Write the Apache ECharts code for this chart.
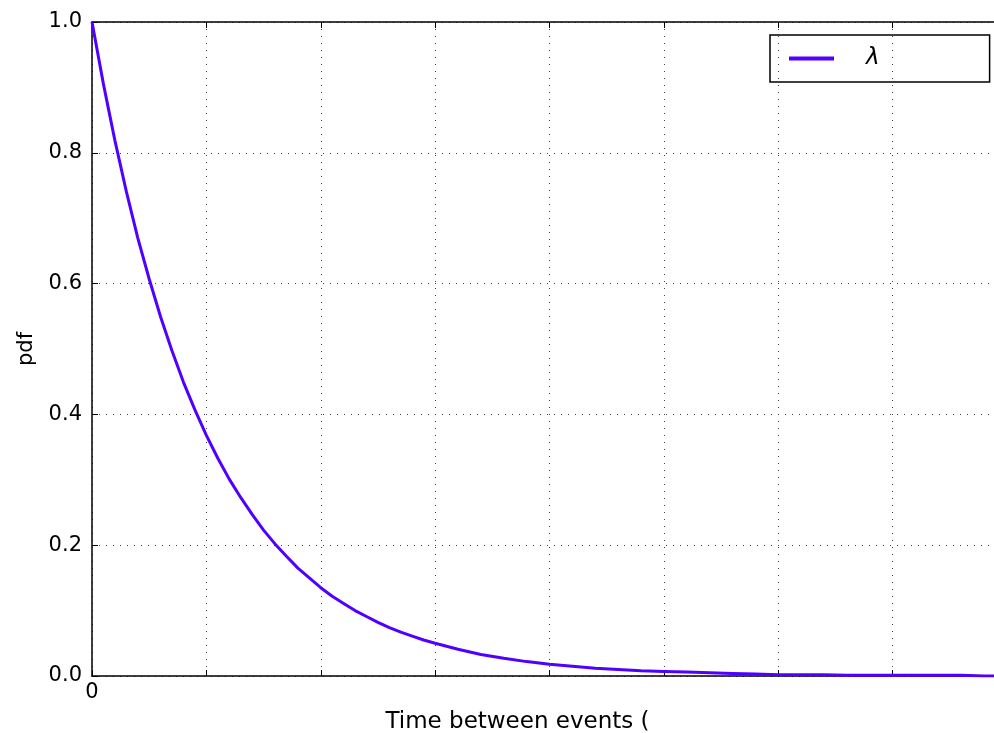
<!DOCTYPE html>
<html>
<head>
<meta charset="utf-8">
<script src="https://cdn.jsdelivr.net/npm/echarts@6/dist/echarts.min.js"></script>
<style>
  html, body { margin: 0; padding: 0; background: #fff; }
  #chart { width: 994px; height: 733px; }
</style>
</head>
<body>
<div id="chart"></div>
<script>
// exponential pdf
var xs = [0, 0.1, 0.2, 0.3, 0.4, 0.5, 0.6, 0.7, 0.8, 0.9, 1.0, 1.1, 1.2, 1.3, 1.4, 1.5,
    1.6, 1.7, 1.8, 1.9, 2.0, 2.1, 2.2, 2.3, 2.4, 2.5, 2.6, 2.7, 2.8, 2.9, 3.0,
    3.2, 3.4, 3.6, 3.8, 4.0, 4.2, 4.4, 4.6, 4.8, 5.0, 5.2, 5.4, 5.6, 5.8, 6.0,
    6.2, 6.4, 6.6, 6.8, 7.0, 7.2, 7.4, 7.6, 7.8, 8.0];
var pdf = [1.000, 0.905, 0.819, 0.741, 0.670, 0.607, 0.549, 0.497, 0.449, 0.407, 0.368,
    0.333, 0.301, 0.273, 0.247, 0.223, 0.202, 0.183, 0.165, 0.150, 0.135,
    0.122, 0.111, 0.100, 0.091, 0.082, 0.074, 0.067, 0.061, 0.055, 0.050,
    0.041, 0.033, 0.027, 0.022, 0.018, 0.015, 0.012, 0.010, 0.008, 0.007,
    0.006, 0.005, 0.004, 0.003, 0.002, 0.002, 0.002, 0.001, 0.001, 0.001,
    0.001, 0.001, 0.001, 0.000, 0.000];
var seriesName = "λ";
var xTitle = "Time between events (";
var yTitle = "pdf";

var font = "DejaVu Sans";
var points = [];
for (var i = 0; i < xs.length; i++) {
    points.push([xs[i], pdf[i]]);
}

var gridDots = { show: true, lineStyle: { color: "#444", width: 1, type: [1, 6] } };
var tickStyle = { show: true, inside: true, length: 6, lineStyle: { color: "#000" } };
var frameLine = { show: true, lineStyle: { color: "#000", width: 1.5 } };

var myChart = echarts.init(document.getElementById("chart"));
var option = {
    animation: false,
    backgroundColor: "#fff",
    grid: { left: 92, top: 22, bottom: 57, right: -13, outerBoundsMode: "none", containLabel: false },
    legend: {
        left: 770,
        top: 35,
        data: [seriesName],
        icon: "rect",
        itemWidth: 45,
        itemHeight: 4,
        borderColor: "#000",
        borderWidth: 1.5,
        borderRadius: 0,
        padding: [12, 110, 12, 19],
        textStyle: {
            fontFamily: font,
            fontStyle: "italic",
            fontSize: 23,
            color: "#000",
            padding: [0, 0, 0, 27]
        }
    },
    xAxis: [{
        type: "value",
        min: 0,
        max: 8,
        interval: 1,
        name: xTitle,
        nameLocation: "middle",
        nameGap: 35,
        nameTextStyle: { fontFamily: font, fontSize: 23, color: "#000", padding: [0, 64, 0, 0] },
        axisLine: frameLine,
        axisTick: tickStyle,
        axisLabel: {
            fontFamily: font, fontSize: 21, color: "#000", margin: 6,
            formatter: function (v) { return v === 0 ? "0" : ""; }
        },
        splitLine: gridDots
    }, {
        type: "value",
        position: "top",
        min: 0,
        max: 8,
        interval: 1,
        axisLine: frameLine,
        axisTick: tickStyle,
        axisLabel: { show: false },
        splitLine: { show: false }
    }],
    yAxis: [{
        type: "value",
        min: 0,
        max: 1,
        interval: 0.2,
        name: yTitle,
        nameLocation: "middle",
        nameGap: 55,
        nameTextStyle: { fontFamily: font, fontSize: 21, color: "#000" },
        axisLine: frameLine,
        axisTick: tickStyle,
        axisLabel: {
            fontFamily: font, fontSize: 21, color: "#000", margin: 10,
            formatter: function (v) { return v.toFixed(1); }
        },
        splitLine: gridDots
    }],
    series: [{
        name: seriesName,
        type: "line",
        data: points,
        symbol: "none",
        smooth: false,
        lineStyle: { color: "#5000ff", width: 3 },
        itemStyle: { color: "#5000ff" }
    }]
};
myChart.setOption(option);
</script>
</body>
</html>
